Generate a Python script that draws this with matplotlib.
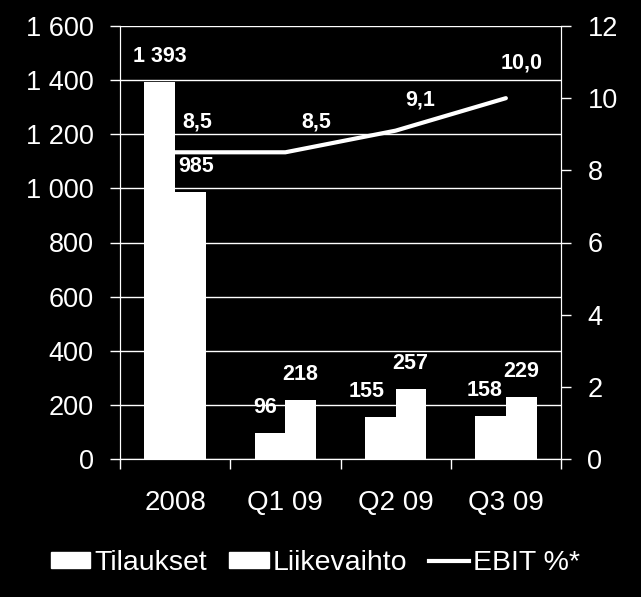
import numpy as np
import matplotlib.pyplot as plt
from matplotlib.patches import Patch
from matplotlib.lines import Line2D

plt.rcParams['font.family'] = ['Liberation Sans', 'DejaVu Sans']

# data
categories = ['2008', 'Q1 09', 'Q2 09', 'Q3 09']
tilaukset = [1393, 96, 155, 158]
liikevaihto = [985, 218, 257, 229]
ebit = [8.5, 8.5, 9.1, 10.0]

def fi(v, dec=0):
    # finnish number format: space thousands, comma decimal
    if dec:
        return ('%.1f' % v).replace('.', ',')
    return '{:,}'.format(int(v)).replace(',', ' ')

# label nudges in pixels (x) for the bar labels
til_dx = [0, -5, -14, -6]
lii_dx = [6, -1, -1, 0]
# ebit label offsets in pixels
ebit_off = [(22, 30), (31, 30), (25, 31), (16, 35)]

fig = plt.figure(figsize=(6.41, 5.97), dpi=100, facecolor='black')
ax = fig.add_axes([120/641, 1-459/597, 441/641, 433/597])
ax.set_facecolor('black')
ax2 = ax.twinx()

x = np.arange(len(categories))
w = 0.28
ax.bar(x - w/2, tilaukset, w, color='white', zorder=3)
ax.bar(x + w/2, liikevaihto, w, color='white', zorder=3)

for i in range(len(x)):
    ax.annotate(fi(tilaukset[i]), (x[i] - w/2, tilaukset[i]), xytext=(til_dx[i], 15),
                textcoords='offset pixels', ha='center', va='bottom',
                color='white', fontsize=15.5, fontweight='bold')
    ax.annotate(fi(liikevaihto[i]), (x[i] + w/2, liikevaihto[i]), xytext=(lii_dx[i], 15),
                textcoords='offset pixels', ha='center', va='bottom',
                color='white', fontsize=15.5, fontweight='bold')

ax2.plot(x, ebit, color='white', lw=3, solid_capstyle='round', zorder=4)
for i in range(len(x)):
    ax2.annotate(fi(ebit[i], 1), (x[i], ebit[i]), xytext=ebit_off[i],
                 textcoords='offset pixels', ha='center', va='center',
                 color='white', fontsize=15.5, fontweight='bold')

ax.set_xlim(-0.5, 3.5)
ax.set_ylim(0, 1600)
ax2.set_ylim(0, 12)
ax.set_yticks(range(0, 1601, 200))
ax.set_yticklabels([fi(v) for v in range(0, 1601, 200)])
ax2.set_yticks(range(0, 13, 2))

ax.set_xticks(x)
ax.set_xticklabels(categories)
ax.set_xticks(np.arange(-0.5, 3.6, 1), minor=True)
ax.tick_params(axis='x', which='major', length=0, pad=22, labelsize=20, colors='white')
ax.tick_params(axis='x', which='minor', length=7, width=1, color='white', direction='out')
ax.tick_params(axis='y', length=7, width=1, color='white', labelcolor='white', labelsize=19.5, pad=12)
ax2.tick_params(axis='y', length=7, width=1, color='white', labelcolor='white', labelsize=19.5, pad=12)

ax.grid(axis='y', color='white', lw=1, zorder=0)
ax.set_axisbelow(True)
for a in (ax, ax2):
    for s in a.spines.values():
        s.set_color('white')
    a.spines['top'].set_visible(False)

handles = [Patch(color='white', label='Tilaukset'),
           Patch(color='white', label='Liikevaihto'),
           Line2D([], [], color='white', lw=3, label='EBIT %*')]
leg = fig.legend(handles=handles, loc='center', bbox_to_anchor=(0.492, 1-563/597), ncol=3,
                 frameon=False, fontsize=20.5, handlelength=1.4, handleheight=0.5,
                 handletextpad=0.15, columnspacing=0.75)
for t in leg.get_texts():
    t.set_color('white')

fig.savefig('out.png', dpi=100, facecolor='black')
